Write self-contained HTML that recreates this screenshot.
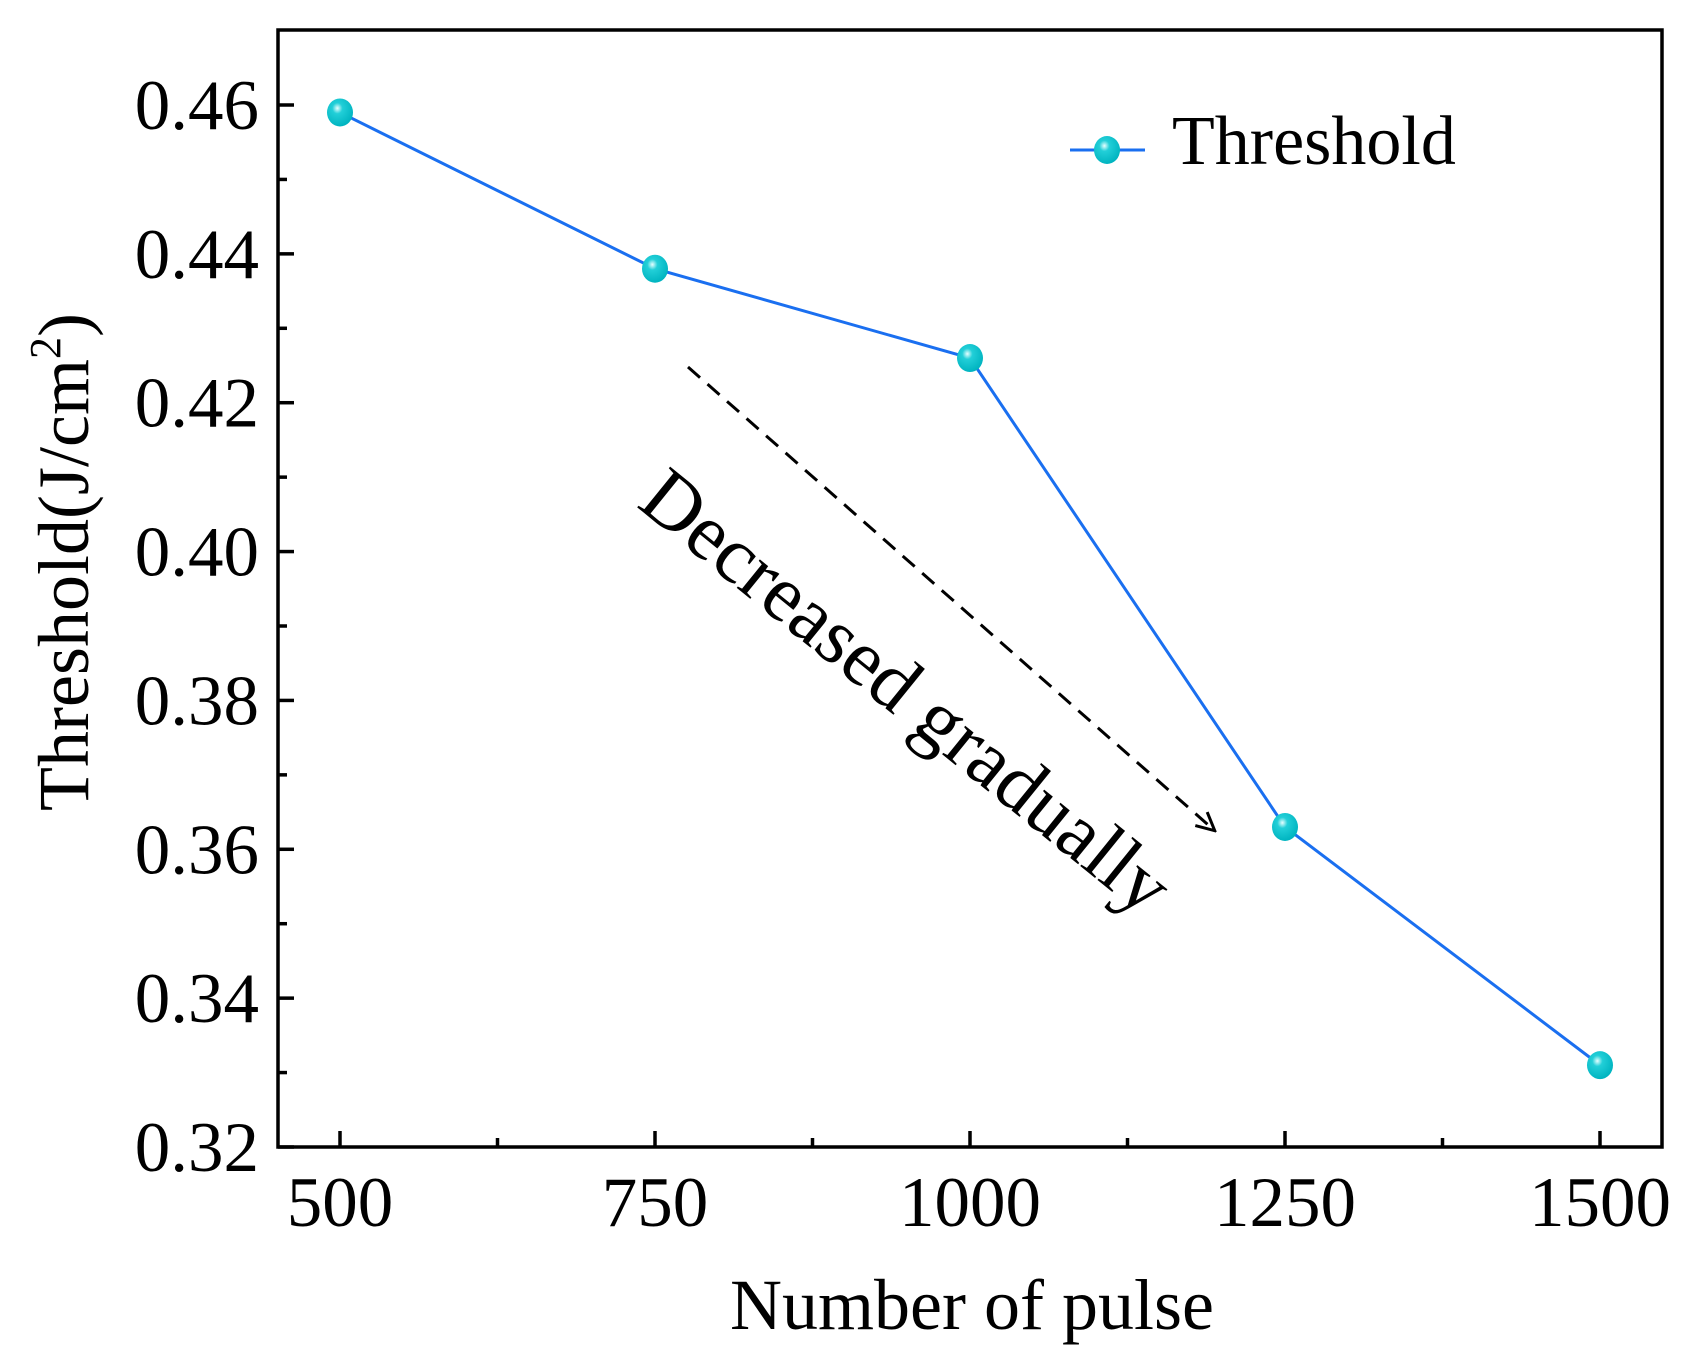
<!DOCTYPE html>
<html><head><meta charset="utf-8"><style>
html,body{margin:0;padding:0;background:#fff;}
svg{display:block;font-family:"Liberation Serif",serif;}
</style></head><body>
<svg id="chart" width="1694" height="1366" viewBox="0 0 1694 1366">
<defs>
<radialGradient id="ball" cx="0.4" cy="0.35" r="0.65">
<stop offset="0" stop-color="#e8ffff"/><stop offset="0.3" stop-color="#22cfd8"/><stop offset="1" stop-color="#00b4c0"/>
</radialGradient>
<marker id="ah" markerWidth="22" markerHeight="22" refX="19" refY="11" orient="auto" markerUnits="userSpaceOnUse" viewBox="0 0 22 22">
<path d="M2,2 L20,11 L2,20" fill="none" stroke="#000" stroke-width="3"/>
</marker>
</defs>
<g id="plot"></g>
</svg>
<script>
const categories=[500,750,1000,1250,1500];
const values=[0.459,0.438,0.426,0.363,0.331];
const yTicks=[0.32,0.34,0.36,0.38,0.40,0.42,0.44,0.46];
const yTickLabels=["0.32","0.34","0.36","0.38","0.40","0.42","0.44","0.46"];
const xTickLabels=["500","750","1000","1250","1500"];
const L=278,R=1662,T=30,B=1147;
function xs(v){return 340+(v-500)*(1260/1000);}
function ys(v){return 1147-(v-0.32)*(1042/0.14);}
const NS="http://www.w3.org/2000/svg";
const g=document.getElementById('plot');
function el(t,a,txt){const e=document.createElementNS(NS,t);for(const k in a)e.setAttribute(k,a[k]);if(txt!==undefined)e.textContent=txt;g.appendChild(e);return e;}
let e;
e=el('rect',{x:L,y:T,width:R-L,height:B-T,fill:'none',stroke:'#000','stroke-width':3.5});


yTicks.forEach((v,i)=>{
 const y=ys(v);
 e=el('line',{x1:L,x2:L+16,y1:y,y2:y,stroke:'#000','stroke-width':3.5});
 
 
 if(i<yTicks.length-1){const ym=ys(v+0.01);
  e=el('line',{x1:L,x2:L+9,y1:ym,y2:ym,stroke:'#000','stroke-width':3.5});
  
  }
 e=el('text',{x:259,y:y+24,'font-size':71,'text-anchor':'end'},yTickLabels[i]);
 
 
});
categories.forEach((c,i)=>{
 const x=xs(c);
 e=el('line',{x1:x,x2:x,y1:B,y2:B-16,stroke:'#000','stroke-width':3.5});
 
 
 if(i<categories.length-1){const xm=xs(c+125);
  e=el('line',{x1:xm,x2:xm,y1:B,y2:B-9,stroke:'#000','stroke-width':3.5});
  
  }
 e=el('text',{x:x,y:1226,'font-size':71,'text-anchor':'middle'},xTickLabels[i]);
 
 
});
e=el('polyline',{points:categories.map((c,i)=>xs(c)+','+ys(values[i])).join(' '),fill:'none',stroke:'#1a6ff0','stroke-width':3});


categories.forEach((c,i)=>{
 e=el('ellipse',{cx:xs(c),cy:ys(values[i]),rx:13,ry:14,fill:'url(#ball)'});
 
 
});
e=el('text',{x:972,y:1329,'font-size':72,'text-anchor':'middle'},'Number of pulse');


e=el('text',{x:0,y:0,'font-size':72,'text-anchor':'middle',transform:'translate(88,562) rotate(-90)'});
e.innerHTML='Threshold(J/cm<tspan font-size="44" dy="-28">2</tspan><tspan dy="28">)</tspan>';


e=el('line',{x1:688,y1:367,x2:1214,y2:830,stroke:'#000','stroke-width':3,'stroke-dasharray':'16,10','marker-end':'url(#ah)'});


e=el('text',{x:0,y:0,'font-size':80,'text-anchor':'middle',transform:'translate(890,712) rotate(39)'},'Decreased gradually');


e=el('line',{x1:1070,x2:1145,y1:150,y2:150,stroke:'#1a6ff0','stroke-width':3});


e=el('ellipse',{cx:1107,cy:150,rx:13,ry:14,fill:'url(#ball)'});


e=el('text',{x:1172,y:164,'font-size':70},'Threshold');


</script>
</body></html>
